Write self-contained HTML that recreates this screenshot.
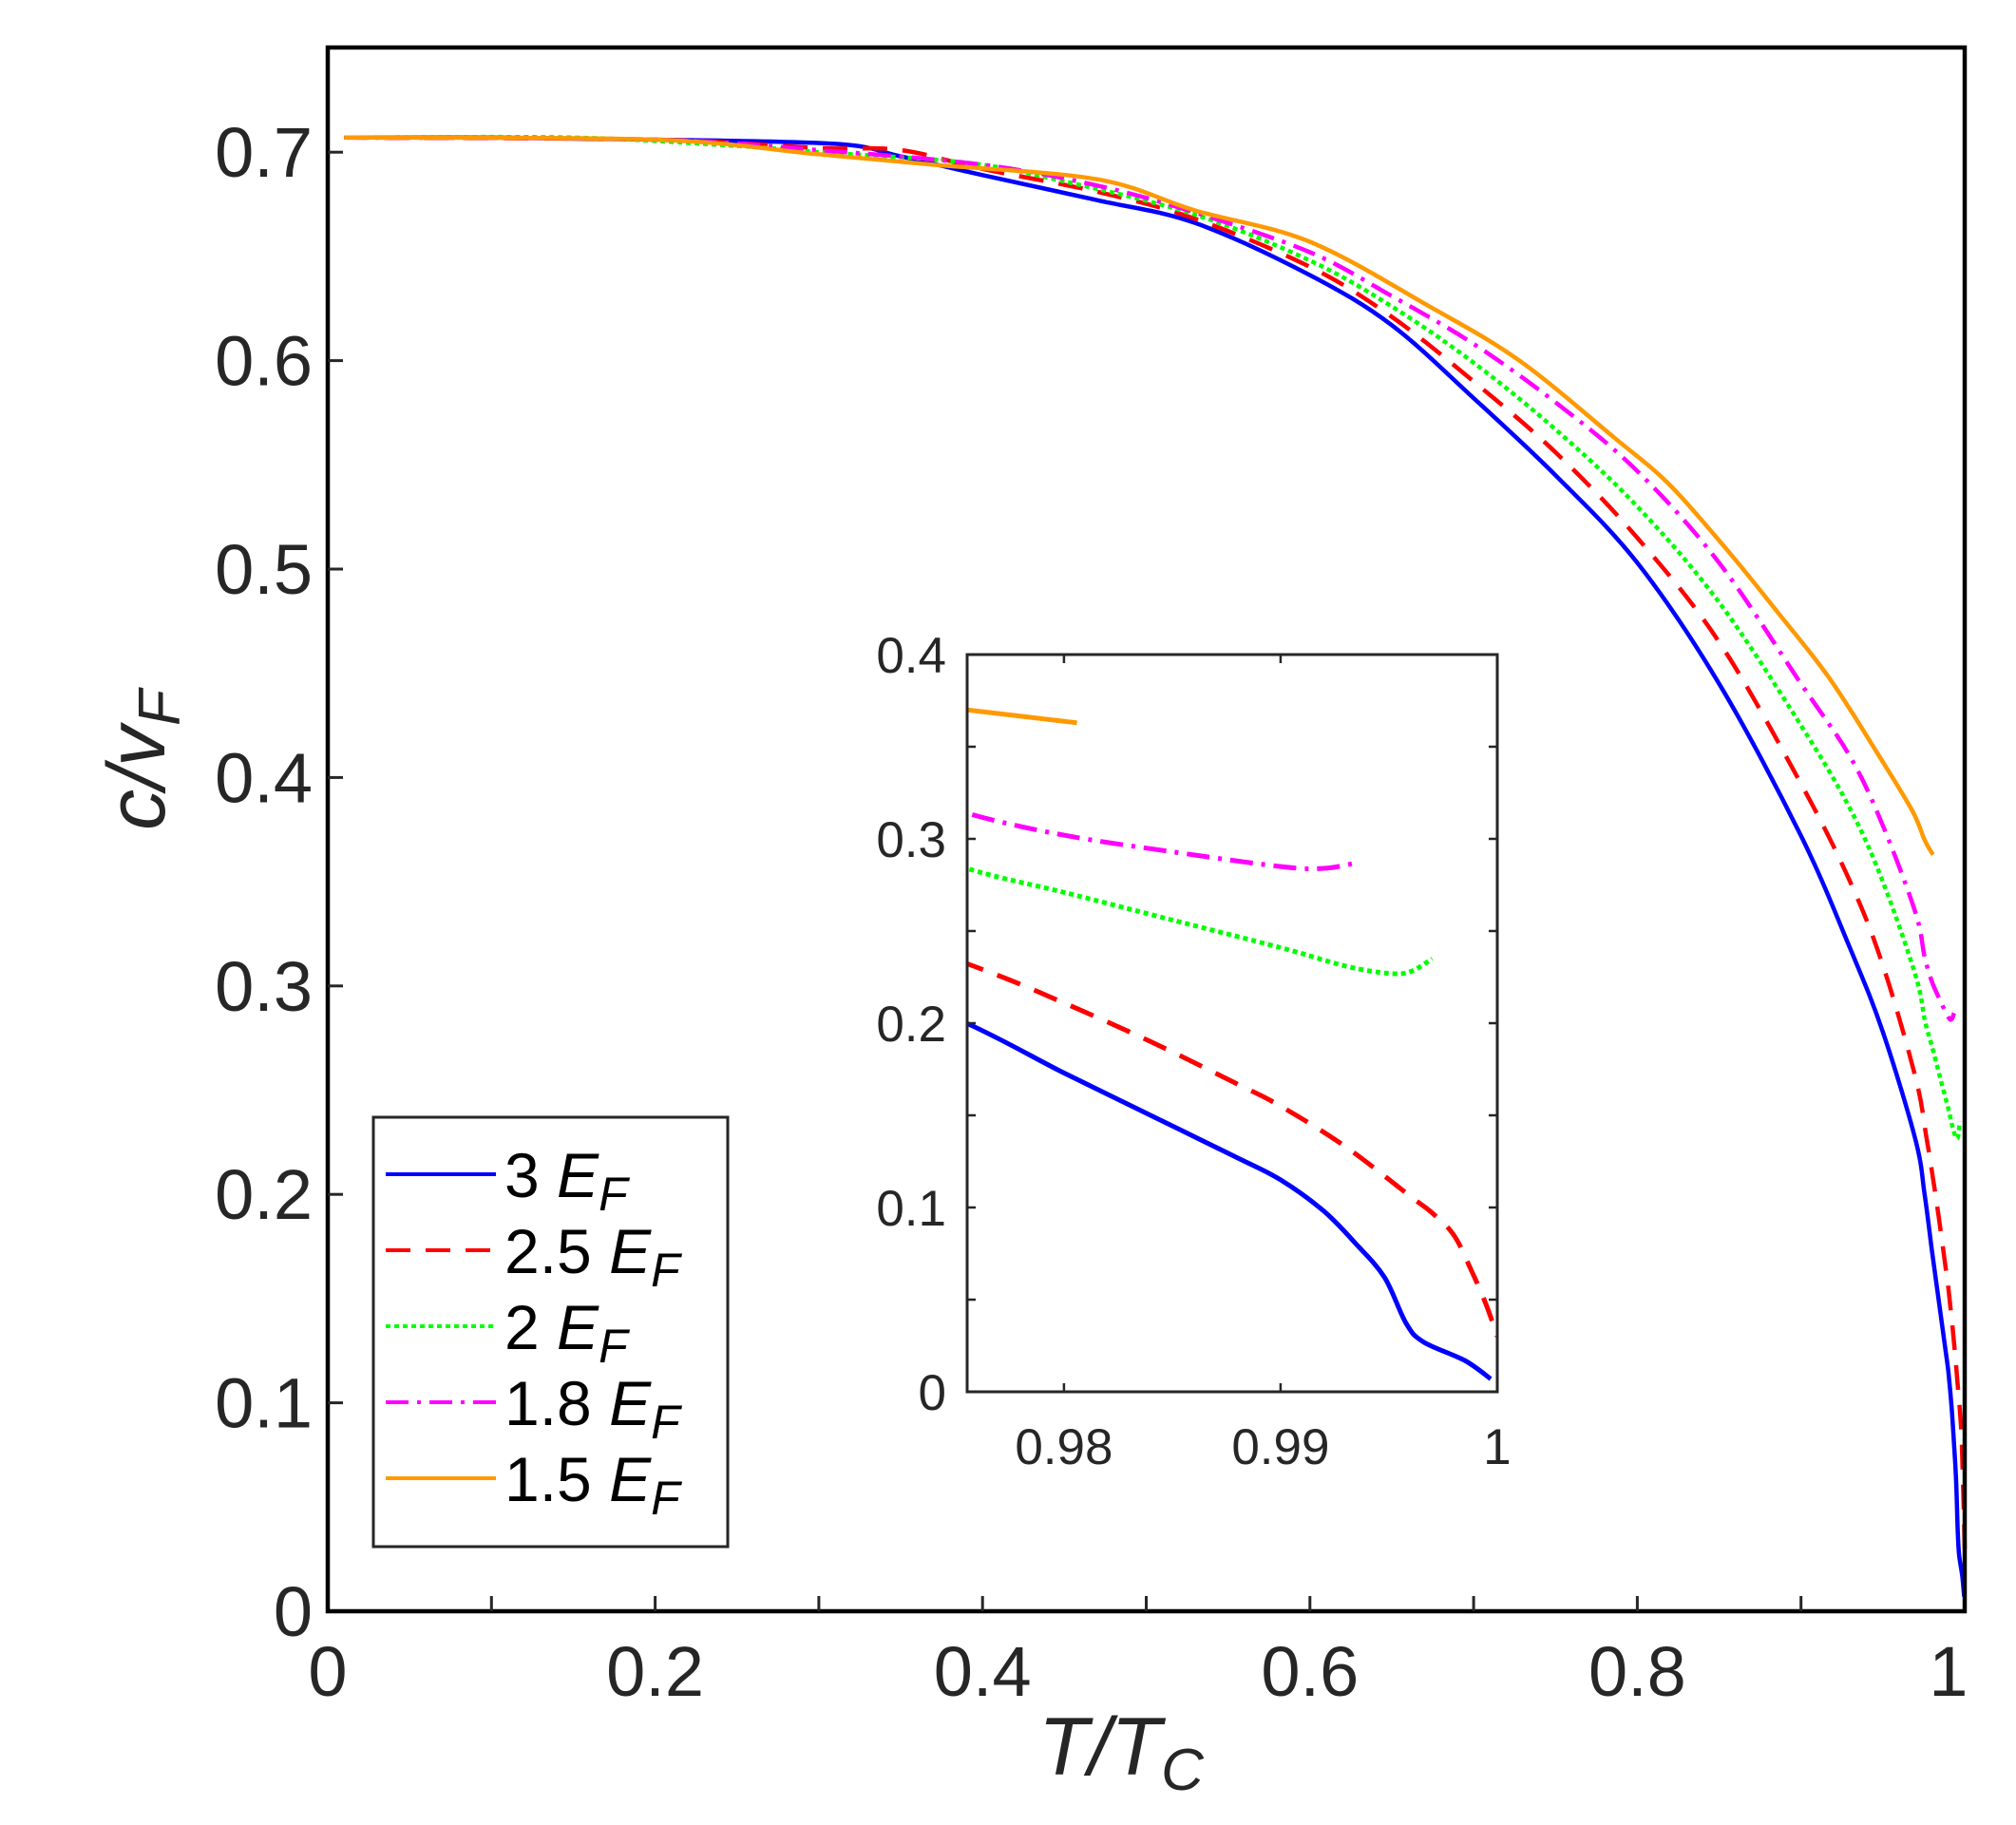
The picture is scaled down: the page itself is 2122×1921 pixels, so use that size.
<!DOCTYPE html>
<html><head><meta charset="utf-8"><style>
html,body{margin:0;padding:0;background:#fff;}
svg{display:block;font-family:"Liberation Sans",Arial,sans-serif;}
</style></head><body>
<svg id="s" width="2122" height="1921" viewBox="0 0 2122 1921" xmlns="http://www.w3.org/2000/svg">
<rect width="2122" height="1921" fill="#fff"/>
<g id="main"></g>
<g id="ins"></g>
<rect x="345" y="50" width="1723" height="1646" fill="none" stroke="#000" stroke-width="4.5"/>
<g id="ticks" stroke="#262626" stroke-width="3"></g>
<g id="labels" fill="#262626" font-size="74"></g>
<text x="1180" y="1868" font-size="86" font-style="italic" fill="#262626" text-anchor="middle">T/T<tspan font-size="62" dy="16">C</tspan></text>
<text transform="translate(173,800) rotate(-90)" font-size="86" font-style="italic" fill="#262626" text-anchor="middle">c/v<tspan font-size="62" dy="16">F</tspan></text>
<rect x="393" y="1176" width="373" height="452" fill="#fff" stroke="#262626" stroke-width="3"/>
<g id="leg"></g>
</svg>
<script>
const NS="http://www.w3.org/2000/svg";
function el(t,a,p,txt){const e=document.createElementNS(NS,t);for(const k in a)e.setAttribute(k,a[k]);if(txt!==undefined)e.textContent=txt;p.appendChild(e);return e;}
const X=t=>345+1723*t, Y=v=>1696-2194*v;
const IX=t=>1018+(t-0.97553)*22800, IY=v=>1465-1940*v;
const styles={
 blue:{c:"#0000ff",d:""},
 red:{c:"#ff0000",d:"26 16"},
 green:{c:"#00ff00",d:"5 4"},
 mag:{c:"#ff00ff",d:"24 9 4 9"},
 orange:{c:"#ff9900",d:""}
};
const data={
 blue:[[0.01,0.707],[0.1,0.707],[0.2,0.706],[0.31,0.704],[0.35,0.698],[0.4,0.689],[0.47,0.677],[0.53,0.666],[0.6,0.641],[0.65,0.617],[0.7,0.582],[0.75,0.545],[0.8,0.503],[0.85,0.445],[0.9,0.372],[0.93,0.318],[0.95,0.278],[0.97,0.226],[0.9755,0.2],[0.98,0.173],[0.984,0.15],[0.988,0.127],[0.99,0.115],[0.992,0.098],[0.9935,0.08],[0.9948,0.062],[0.9958,0.037],[0.9966,0.027],[0.9985,0.017],[0.9997,0.007]],
 red:[[0.01,0.707],[0.2,0.706],[0.3,0.702],[0.35,0.701],[0.4,0.692],[0.47,0.681],[0.53,0.668],[0.6,0.645],[0.65,0.621],[0.7,0.59],[0.75,0.556],[0.8,0.515],[0.85,0.465],[0.9,0.397],[0.93,0.35],[0.95,0.31],[0.97,0.256],[0.9765,0.228],[0.98,0.211],[0.984,0.19],[0.988,0.167],[0.99,0.155],[0.993,0.133],[0.996,0.106],[0.997,0.097],[0.998,0.085],[0.9988,0.066],[0.9995,0.047],[1.0,0.03]],
 green:[[0.01,0.707],[0.15,0.707],[0.25,0.703],[0.3,0.7],[0.39,0.695],[0.45,0.686],[0.53,0.67],[0.6,0.648],[0.65,0.626],[0.7,0.599],[0.75,0.567],[0.8,0.53],[0.85,0.484],[0.9,0.425],[0.93,0.385],[0.95,0.35],[0.97,0.305],[0.9758,0.283],[0.98,0.271],[0.985,0.256],[0.99,0.241],[0.993,0.231],[0.995,0.227],[0.996,0.228],[0.997,0.235]],
 mag:[[0.01,0.707],[0.2,0.706],[0.3,0.701],[0.4,0.694],[0.47,0.684],[0.53,0.671],[0.6,0.652],[0.65,0.631],[0.7,0.608],[0.75,0.58],[0.8,0.547],[0.85,0.503],[0.9,0.445],[0.93,0.41],[0.95,0.377],[0.97,0.335],[0.9755,0.314],[0.98,0.302],[0.985,0.293],[0.99,0.285],[0.992,0.284],[0.9935,0.287]],
 orange:[[0.01,0.707],[0.2,0.706],[0.3,0.699],[0.37,0.694],[0.47,0.687],[0.53,0.672],[0.6,0.657],[0.673,0.626],[0.728,0.6],[0.786,0.563],[0.819,0.541],[0.854,0.51],[0.885,0.48],[0.917,0.448],[0.948,0.41],[0.968,0.384],[0.9755,0.37],[0.9806,0.363]]
};
function smooth(pts){ // catmull-rom to cubic bezier
 let d="M"+pts[0][0].toFixed(1)+","+pts[0][1].toFixed(1);
 for(let i=0;i<pts.length-1;i++){
  const p0=pts[Math.max(0,i-1)],p1=pts[i],p2=pts[i+1],p3=pts[Math.min(pts.length-1,i+2)];
  const c1=[p1[0]+(p2[0]-p0[0])/6,p1[1]+(p2[1]-p0[1])/6];
  const c2=[p2[0]-(p3[0]-p1[0])/6,p2[1]-(p3[1]-p1[1])/6];
  d+=" C"+c1[0].toFixed(1)+","+c1[1].toFixed(1)+" "+c2[0].toFixed(1)+","+c2[1].toFixed(1)+" "+p2[0].toFixed(1)+","+p2[1].toFixed(1);
 }
 return d;
}
const order=["blue","red","green","mag","orange"];
const main=document.getElementById("main"), ins=document.getElementById("ins");
order.forEach(k=>{
 const s=styles[k];
 el("path",{d:smooth(data[k].map(p=>[X(p[0]),Y(p[1])])),fill:"none",stroke:s.c,"stroke-width":4.5,"stroke-dasharray":s.d,"stroke-linejoin":"round"},main);
});
el("rect",{x:1018,y:689,width:558,height:776,fill:"#fff"},ins);
const cp=el("clipPath",{id:"ic"},ins);el("rect",{x:1018,y:689,width:558,height:776},cp);
const ig=el("g",{"clip-path":"url(#ic)"},ins);
order.forEach(k=>{
 const s=styles[k];
 const pts=data[k].filter(p=>p[0]>=0.97).map(p=>[IX(p[0]),IY(p[1])]);
 el("path",{d:smooth(pts),fill:"none",stroke:s.c,"stroke-width":5,"stroke-dasharray":s.d,"stroke-linejoin":"round"},ig);
});
el("rect",{x:1018,y:689,width:558,height:776,fill:"none",stroke:"#262626","stroke-width":3},ins);
const it=el("g",{stroke:"#262626","stroke-width":2.5},ins);
for(let v=0.05;v<0.4;v+=0.05){const y=IY(v);el("line",{x1:1018,y1:y,x2:1027,y2:y},it);el("line",{x1:1576,y1:y,x2:1567,y2:y},it);}
[0.98,0.99].forEach(t=>{const x=IX(t);el("line",{x1:x,y1:1465,x2:x,y2:1456},it);el("line",{x1:x,y1:689,x2:x,y2:698},it);});
const il=el("g",{fill:"#262626","font-size":"53"},ins);
["0","0.1","0.2","0.3","0.4"].forEach((s,i)=>el("text",{x:996,y:IY(i*0.1)+19,"text-anchor":"end"},il,s));
[["0.98",0.98],["0.99",0.99],["1",1.0]].forEach(a=>el("text",{x:IX(a[1]),y:1541,"text-anchor":"middle"},il,a[0]));
const tk=document.getElementById("ticks"), lb=document.getElementById("labels");
for(let i=1;i<10;i++){const x=X(i/10);el("line",{x1:x,y1:1696,x2:x,y2:1680},tk);}
for(let i=1;i<=7;i++){const y=Y(i/10);el("line",{x1:345,y1:y,x2:361,y2:y},tk);}
for(let i=0;i<=7;i++){el("text",{x:329,y:Y(i/10)+26,"text-anchor":"end"},lb,i==0?"0":"0."+i);}
[["0",0],["0.2",0.2],["0.4",0.4],["0.6",0.6],["0.8",0.8],["1",0.99]].forEach(a=>el("text",{x:X(a[1]),y:1785,"text-anchor":"middle"},lb,a[0]));
const lg=document.getElementById("leg");
const names=["3","2.5","2","1.8","1.5"], ly=[1236,1316,1396,1476,1556];
order.forEach((k,i)=>{
 const s=styles[k];
 el("line",{x1:406,y1:ly[i],x2:522,y2:ly[i],stroke:s.c,"stroke-width":4,"stroke-dasharray":s.d},lg);
 const t=el("text",{x:531,y:ly[i]+24,"font-size":"66",fill:"#000"},lg);
 const a=document.createElementNS(NS,"tspan");a.textContent=names[i]+" ";t.appendChild(a);
 const b=document.createElementNS(NS,"tspan");b.setAttribute("font-style","italic");b.textContent="E";t.appendChild(b);
 const c=document.createElementNS(NS,"tspan");c.setAttribute("font-style","italic");c.setAttribute("font-size","50");c.setAttribute("dy","14");c.textContent="F";t.appendChild(c);
});
</script>
</body></html>
